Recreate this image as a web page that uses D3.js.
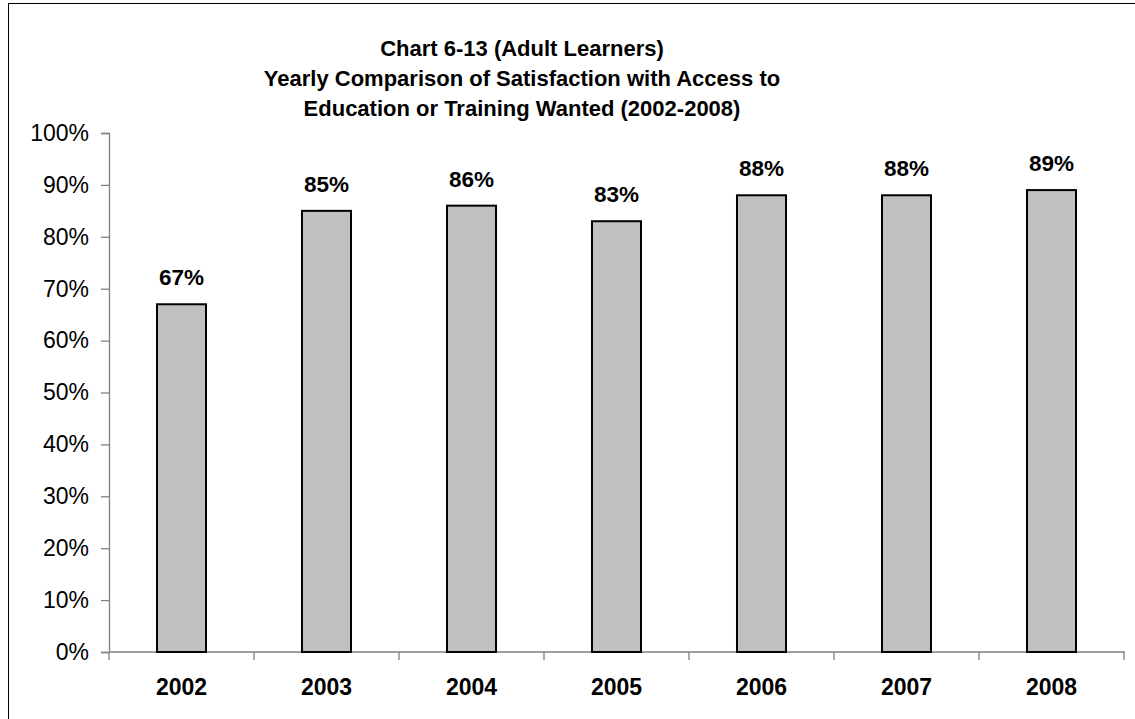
<!DOCTYPE html>
<html>
<head>
<meta charset="utf-8">
<script src="https://cdn.jsdelivr.net/npm/d3@7"></script>
<style>
  html, body { margin: 0; padding: 0; background: #fff; }
  svg { display: block; font-family: "Liberation Sans", Arial, sans-serif; }
</style>
</head>
<body>
<svg id="chart" width="1135" height="719"></svg>
<script>
const years = ["2002", "2003", "2004", "2005", "2006", "2007", "2008"];
const satisfaction = [67, 85, 86, 83, 88, 88, 89];
const yTicks = [0, 10, 20, 30, 40, 50, 60, 70, 80, 90, 100];
const titleLines = [
  "Chart 6-13 (Adult Learners)",
  "Yearly Comparison of Satisfaction with Access to",
  "Education or Training Wanted (2002-2008)"
];

const svg = d3.select("#chart");

// outer chart border (right/bottom edges fall outside the frame)
svg.append("rect")
  .attr("x", 8.5).attr("y", 3.5)
  .attr("width", 1140).attr("height", 730)
  .attr("fill", "none").attr("stroke", "#000").attr("stroke-width", 1);

const plot = { left: 109, right: 1124, top: 133, bottom: 652 };

const x = d3.scaleBand()
  .domain(years)
  .range([plot.left, plot.right])
  .paddingInner(0.662)
  .paddingOuter(0.331);

const y = d3.scaleLinear()
  .domain([0, 100])
  .range([plot.bottom, plot.top]);

// Title
svg.append("g")
  .selectAll("text")
  .data(titleLines)
  .join("text")
  .attr("x", 522)
  .attr("y", (d, i) => 56 + i * 30)
  .attr("text-anchor", "middle")
  .attr("font-weight", "bold")
  .attr("font-size", 22)
  .attr("fill", "#000")
  .text(d => d);

// Y axis
const yAxis = svg.append("g")
  .attr("transform", `translate(${plot.left},0)`)
  .call(d3.axisLeft(y).tickValues(yTicks).tickFormat(d => d + "%").tickSize(8).tickPadding(12));
yAxis.select(".domain").attr("stroke", "#808080").attr("stroke-width", 1.3);
yAxis.selectAll(".tick line").attr("stroke", "#808080").attr("stroke-width", 1.3);
yAxis.selectAll(".tick text")
  .attr("font-size", 23)
  .attr("font-family", "'Liberation Sans', Arial, sans-serif")
  .attr("fill", "#000");

// X axis with ticks at category boundaries
const xg = svg.append("g").attr("transform", `translate(0,${plot.bottom})`);
xg.append("line")
  .attr("x1", plot.left).attr("x2", plot.right + 1)
  .attr("stroke", "#808080").attr("stroke-width", 1.3);
const boundaries = years.map(d => x(d) - x.step() * x.paddingInner() / 2).concat([plot.right]);
xg.selectAll("line.tk")
  .data(boundaries)
  .join("line")
  .attr("class", "tk")
  .attr("x1", d => d).attr("x2", d => d)
  .attr("y1", 0).attr("y2", 8)
  .attr("stroke", "#808080").attr("stroke-width", 1.3);
xg.selectAll("text")
  .data(years)
  .join("text")
  .attr("x", d => x(d) + x.bandwidth() / 2)
  .attr("y", 43)
  .attr("text-anchor", "middle")
  .attr("font-weight", "bold")
  .attr("font-size", 23)
  .attr("fill", "#000")
  .text(d => d);

// Bars
const data = years.map((yr, i) => ({ yr, v: satisfaction[i] }));
svg.append("g")
  .selectAll("rect")
  .data(data)
  .join("rect")
  .attr("x", d => x(d.yr))
  .attr("y", d => y(d.v))
  .attr("width", x.bandwidth())
  .attr("height", d => y(0) - y(d.v))
  .attr("fill", "#c0c0c0")
  .attr("stroke", "#000")
  .attr("stroke-width", 2);

// Value labels
svg.append("g")
  .selectAll("text")
  .data(data)
  .join("text")
  .attr("x", d => x(d.yr) + x.bandwidth() / 2)
  .attr("y", d => y(d.v) - 19)
  .attr("text-anchor", "middle")
  .attr("font-weight", "bold")
  .attr("font-size", 22.5)
  .attr("fill", "#000")
  .text(d => d.v + "%");
</script>
</body>
</html>
